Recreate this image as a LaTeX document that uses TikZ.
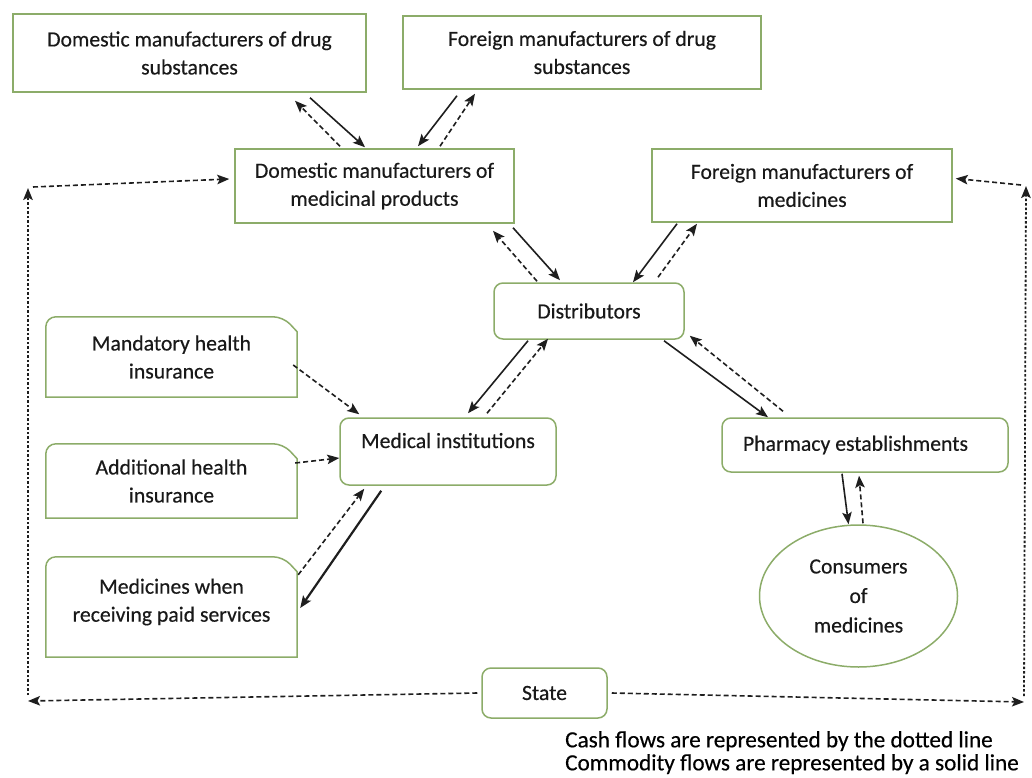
\documentclass[tikz,border=0pt]{standalone}
\usepackage{fontspec}
\setmainfont{Carlito}[FakeBold=0.4]
\usetikzlibrary{arrows.meta,shapes.geometric}
\definecolor{grn}{RGB}{140,172,105}
\definecolor{ink}{RGB}{30,30,30}
\definecolor{txt}{RGB}{25,25,25}
\tikzset{
  lbl/.style={font=\fontsize{21.7}{28}\selectfont, text=txt, align=center, inner sep=0pt},
  sqbox/.style={lbl, draw=grn, line width=1.5pt},
  rbox/.style={sqbox, rounded corners=9pt},
  outline/.style={draw=grn, line width=1.5pt},
  tip/.style={-{Stealth[length=12pt,width=9.5pt,inset=2.5pt]}},
  goods/.style={draw=ink, line width=1.6pt, tip},
  cash/.style={draw=ink, line width=1.6pt, dash pattern=on 5pt off 3pt, tip},
  dots/.style={draw=ink, line width=1.8pt, dash pattern=on 2.5pt off 2pt, tip},
}
\begin{document}
\begin{tikzpicture}[x=1pt,y=-1pt]
\useasboundingbox (0,0) rectangle (1032,778);
% boxes
\node[sqbox, minimum width=353pt, minimum height=78pt] (b1) at (189.5,53) {Domestic manufacturers of drug\\substances};
\node[sqbox, minimum width=358pt, minimum height=73pt] (b2) at (582,52.5) {Foreign manufacturers of drug\\substances};
\node[sqbox, minimum width=279pt, minimum height=74pt] (b3) at (374.5,186) {Domestic manufacturers of\\medicinal products};
\node[sqbox, minimum width=300pt, minimum height=73pt] (b4) at (802,185.5) {Foreign manufacturers of\\medicines};
\node[rbox, minimum width=190pt, minimum height=56pt] (dist) at (589,311) {Distributors};
\node[rbox, minimum width=216pt, minimum height=67pt, text height=16pt, text depth=23pt] (med) at (448,451.5) {Medical institutions};
\node[rbox, minimum height=54pt, text width=244pt, inner xsep=21pt, align=flush left] (pharm) at (865,445) {Pharmacy establishments};
\node[lbl, ellipse, draw=grn, line width=1.5pt, minimum width=198pt, minimum height=142pt, font=\fontsize{21.7}{29.5}\selectfont] (cons) at (858.5,596) {Consumers\\of\\medicines};
\node[rbox, minimum width=125pt, minimum height=50pt] (state) at (544.5,693) {State};
% chamfered boxes
\node[lbl, minimum width=251pt, minimum height=80pt] (mand) at (171.5,357) {Mandatory health\\insurance};
\node[lbl, minimum width=251pt, minimum height=74pt] (addi) at (171.5,481) {Additional health\\insurance};
\node[lbl, minimum width=251pt, minimum height=90pt] (paid) at (171.5,602) {Medicines when\\receiving paid services};
\foreach \n/\b in {mand/0,addi/0,paid/10}{
  \draw[outline] ([shift={(0,\b)}]\n.south west) {[rounded corners=10pt] -- (\n.north west) -- ([shift={(-14,0)}]\n.north east)} -- ([shift={(0,15)}]\n.north east) -- ([shift={(0,\b)}]\n.south east) -- cycle;
}
% legend
\node[font=\fontsize{23.2}{23}\selectfont, text=black, align=left, anchor=north west, inner sep=0pt] (legend) at (565,731) {Cash flows are represented by the dotted line\\Commodity flows are represented by a solid line};
% side coordinates
\coordinate (LB) at (28,701);
\coordinate (LT) at (28,188);
\coordinate (RB) at (1024,702);
\coordinate (RT) at (1026,186);
% b1 - b3
\draw[goods] ([shift={(120.5,5)}]b1.south) -- ([shift={(-9.5,-1)}]b3.north);
\draw[cash] ([shift={(-34.5,-2)}]b3.north) -- ([shift={(105.5,8)}]b1.south);
% b2 - b3
\draw[goods] ([shift={(-125,6)}]b2.south) -- ([shift={(43.5,-2)}]b3.north);
\draw[cash] ([shift={(65.5,-2)}]b3.north) -- ([shift={(-107,4)}]b2.south);
% b3 - dist
\draw[cash] ([shift={(-52,-1)}]dist.north) -- ([shift={(118.5,7)}]b3.south);
\draw[goods] ([shift={(138.5,4)}]b3.south) -- ([shift={(-29,-2)}]dist.north);
% b4 - dist
\draw[goods] ([shift={(-125,1)}]b4.south) -- ([shift={(44,0)}]dist.north);
\draw[cash] ([shift={(69,-5)}]dist.north) -- ([shift={(-105,1)}]b4.south);
% dist - med
\draw[goods] ([shift={(-61,1)}]dist.south) -- ([shift={(20,-4)}]med.north);
\draw[cash] ([shift={(39,-4)}]med.north) -- ([shift={(-41,-1)}]dist.south);
% dist - pharm
\draw[goods] ([shift={(75,1)}]dist.south) -- ([shift={(-97,0)}]pharm.north);
\draw[cash] ([shift={(-82,-6)}]pharm.north) -- ([shift={(5,-4)}]dist.south east);
% pharm - cons
\draw[goods] ([shift={(-23,1)}]pharm.south) -- ([shift={(-10,0)}]cons.north);
\draw[cash] ([shift={(4.5,-1)}]cons.north) -- ([shift={(-6,3)}]pharm.south);
% insurance -> med
\draw[cash] ([shift={(-4,8)}]mand.east) -- ([shift={(20,-3)}]med.north west);
\draw[cash] ([shift={(-2,-18)}]addi.east) -- ([shift={(0,6.5)}]med.west);
\draw[cash] ([shift={(1,18)}]paid.north east) -- ([shift={(25,3)}]med.south west);
\draw[goods, line width=2.2pt] ([shift={(42,5)}]med.south west) -- ([shift={(3,6)}]paid.east);
% state flows
\draw[cash] ([shift={(-4,0)}]state.west) -- (LB);
\draw[dots] ([shift={(0,-6)}]LB) -- (LT);
\draw[cash] ([shift={(5,-1)}]LT) -- ([shift={(-5,-7)}]b3.west);
\draw[cash] ([shift={(4,0)}]state.east) -- (RB);
\draw[dots] ([shift={(0,-6)}]RB) -- (RT);
\draw[cash] ([shift={(-5,-1)}]RT) -- ([shift={(3,-7)}]b4.east);
\end{tikzpicture}
\end{document}
